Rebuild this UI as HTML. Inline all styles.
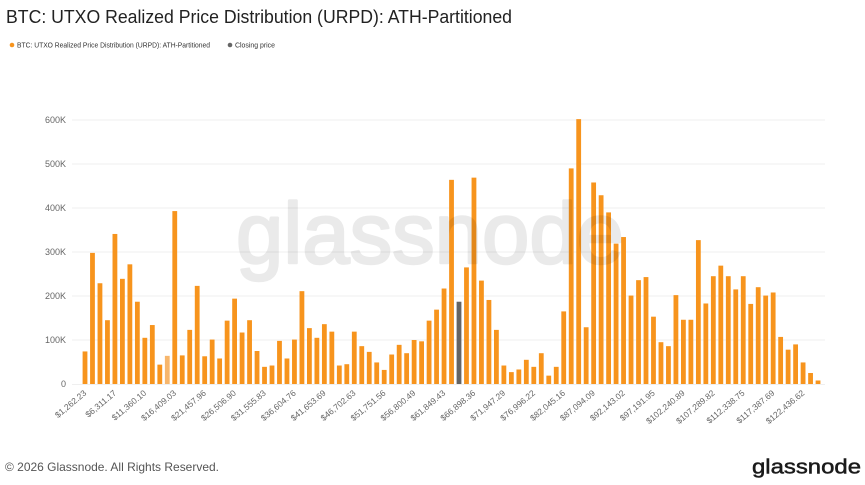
<!DOCTYPE html>
<html>
<head>
<meta charset="utf-8">
<style>
html,body{margin:0;padding:0;background:#fff;}
svg{display:block;font-family:"Liberation Sans",sans-serif;}
</style>
</head>
<body>
<svg width="865" height="485" viewBox="0 0 865 485" xmlns="http://www.w3.org/2000/svg">
<rect x="0" y="0" width="865" height="485" fill="#fff"/>
<text x="6" y="23" font-size="18" fill="#222" textLength="506" lengthAdjust="spacingAndGlyphs">BTC: UTXO Realized Price Distribution (URPD): ATH-Partitioned</text>
<circle cx="12" cy="45" r="2.3" fill="#f7941d"/>
<text x="17" y="47.5" font-size="7" fill="#333" textLength="193" lengthAdjust="spacingAndGlyphs">BTC: UTXO Realized Price Distribution (URPD): ATH-Partitioned</text>
<circle cx="230" cy="45" r="2.3" fill="#666"/>
<text x="235" y="47.5" font-size="7" fill="#333" textLength="40" lengthAdjust="spacingAndGlyphs">Closing price</text>

<g stroke="#efefef" stroke-width="1">
<line x1="72" y1="120" x2="825" y2="120"/>
<line x1="72" y1="164" x2="825" y2="164"/>
<line x1="72" y1="208" x2="825" y2="208"/>
<line x1="72" y1="252" x2="825" y2="252"/>
<line x1="72" y1="296" x2="825" y2="296"/>
<line x1="72" y1="340" x2="825" y2="340"/>
<line x1="72" y1="384.5" x2="825" y2="384.5"/>
</g>
<g font-size="9" fill="#666" text-anchor="end">
<text x="66" y="123">600K</text>
<text x="66" y="167">500K</text>
<text x="66" y="211">400K</text>
<text x="66" y="255">300K</text>
<text x="66" y="299">200K</text>
<text x="66" y="343">100K</text>
<text x="66" y="387">0</text>
</g>

<g fill="#f7941d">
<rect x="82.60" y="351.44" width="4.8" height="32.56"/>
<rect x="90.08" y="252.88" width="4.8" height="131.12"/>
<rect x="97.56" y="283.24" width="4.8" height="100.76"/>
<rect x="105.04" y="320.2" width="4.8" height="63.8"/>
<rect x="112.52" y="233.96" width="4.8" height="150.04"/>
<rect x="120.00" y="278.84" width="4.8" height="105.16"/>
<rect x="127.48" y="264.32" width="4.8" height="119.68"/>
<rect x="134.96" y="301.72" width="4.8" height="82.28"/>
<rect x="142.44" y="337.8" width="4.8" height="46.2"/>
<rect x="149.92" y="325.04" width="4.8" height="58.96"/>
<rect x="157.40" y="364.64" width="4.8" height="19.36"/>
<rect x="164.88" y="355.84" width="4.8" height="28.16" fill="#f7b66c"/>
<rect x="172.36" y="211.08" width="4.8" height="172.92"/>
<rect x="179.84" y="355.4" width="4.8" height="28.6"/>
<rect x="187.32" y="329.88" width="4.8" height="54.12"/>
<rect x="194.80" y="285.88" width="4.8" height="98.12"/>
<rect x="202.28" y="356.28" width="4.8" height="27.72"/>
<rect x="209.76" y="339.56" width="4.8" height="44.44"/>
<rect x="217.24" y="358.48" width="4.8" height="25.52"/>
<rect x="224.72" y="320.64" width="4.8" height="63.36"/>
<rect x="232.20" y="298.64" width="4.8" height="85.36"/>
<rect x="239.68" y="332.52" width="4.8" height="51.48"/>
<rect x="247.16" y="320.2" width="4.8" height="63.8"/>
<rect x="254.64" y="351" width="4.8" height="33"/>
<rect x="262.12" y="366.84" width="4.8" height="17.16"/>
<rect x="269.60" y="365.52" width="4.8" height="18.48"/>
<rect x="277.08" y="340.88" width="4.8" height="43.12"/>
<rect x="284.56" y="358.48" width="4.8" height="25.52"/>
<rect x="292.04" y="339.56" width="4.8" height="44.44"/>
<rect x="299.52" y="291.16" width="4.8" height="92.84"/>
<rect x="307.00" y="328.12" width="4.8" height="55.88"/>
<rect x="314.48" y="337.8" width="4.8" height="46.2"/>
<rect x="321.96" y="324.16" width="4.8" height="59.84"/>
<rect x="329.44" y="331.64" width="4.8" height="52.36"/>
<rect x="336.92" y="365.52" width="4.8" height="18.48"/>
<rect x="344.40" y="364.2" width="4.8" height="19.8"/>
<rect x="351.88" y="331.64" width="4.8" height="52.36"/>
<rect x="359.36" y="346.16" width="4.8" height="37.84"/>
<rect x="366.84" y="351.88" width="4.8" height="32.12"/>
<rect x="374.32" y="362.44" width="4.8" height="21.56"/>
<rect x="381.80" y="369.92" width="4.8" height="14.08"/>
<rect x="389.28" y="354.52" width="4.8" height="29.48"/>
<rect x="396.76" y="344.84" width="4.8" height="39.16"/>
<rect x="404.24" y="353.2" width="4.8" height="30.8"/>
<rect x="411.72" y="340" width="4.8" height="44"/>
<rect x="419.20" y="341.32" width="4.8" height="42.68"/>
<rect x="426.68" y="320.64" width="4.8" height="63.36"/>
<rect x="434.16" y="309.64" width="4.8" height="74.36"/>
<rect x="441.64" y="288.52" width="4.8" height="95.48"/>
<rect x="449.12" y="179.84" width="4.8" height="204.16"/>
<rect x="456.60" y="301.72" width="4.8" height="82.28" fill="#646464"/>
<rect x="464.08" y="267.4" width="4.8" height="116.6"/>
<rect x="471.56" y="177.64" width="4.8" height="206.36"/>
<rect x="479.04" y="280.6" width="4.8" height="103.4"/>
<rect x="486.52" y="299.96" width="4.8" height="84.04"/>
<rect x="494.00" y="329.88" width="4.8" height="54.12"/>
<rect x="501.48" y="365.52" width="4.8" height="18.48"/>
<rect x="508.96" y="372.12" width="4.8" height="11.88"/>
<rect x="516.44" y="369.48" width="4.8" height="14.52"/>
<rect x="523.92" y="359.8" width="4.8" height="24.2"/>
<rect x="531.40" y="366.84" width="4.8" height="17.16"/>
<rect x="538.88" y="353.2" width="4.8" height="30.8"/>
<rect x="546.36" y="375.64" width="4.8" height="8.36"/>
<rect x="553.84" y="366.84" width="4.8" height="17.16"/>
<rect x="561.32" y="311.4" width="4.8" height="72.6"/>
<rect x="568.80" y="168.4" width="4.8" height="215.6"/>
<rect x="576.28" y="119.12" width="4.8" height="264.88"/>
<rect x="583.76" y="327.24" width="4.8" height="56.76"/>
<rect x="591.24" y="182.48" width="4.8" height="201.52"/>
<rect x="598.72" y="195.24" width="4.8" height="188.76"/>
<rect x="606.20" y="212.4" width="4.8" height="171.6"/>
<rect x="613.68" y="243.64" width="4.8" height="140.36"/>
<rect x="621.16" y="237.04" width="4.8" height="146.96"/>
<rect x="628.64" y="295.56" width="4.8" height="88.44"/>
<rect x="636.12" y="280.16" width="4.8" height="103.84"/>
<rect x="643.60" y="277.08" width="4.8" height="106.92"/>
<rect x="651.08" y="316.68" width="4.8" height="67.32"/>
<rect x="658.56" y="342.2" width="4.8" height="41.8"/>
<rect x="666.04" y="346.16" width="4.8" height="37.84"/>
<rect x="673.52" y="295.12" width="4.8" height="88.88"/>
<rect x="681.00" y="319.76" width="4.8" height="64.24"/>
<rect x="688.48" y="319.76" width="4.8" height="64.24"/>
<rect x="695.96" y="240.12" width="4.8" height="143.88"/>
<rect x="703.44" y="303.48" width="4.8" height="80.52"/>
<rect x="710.92" y="276.2" width="4.8" height="107.8"/>
<rect x="718.40" y="265.64" width="4.8" height="118.36"/>
<rect x="725.88" y="276.2" width="4.8" height="107.8"/>
<rect x="733.36" y="289.4" width="4.8" height="94.6"/>
<rect x="740.84" y="276.2" width="4.8" height="107.8"/>
<rect x="748.32" y="303.92" width="4.8" height="80.08"/>
<rect x="755.80" y="287.2" width="4.8" height="96.8"/>
<rect x="763.28" y="295.56" width="4.8" height="88.44"/>
<rect x="770.76" y="292.48" width="4.8" height="91.52"/>
<rect x="778.24" y="336.92" width="4.8" height="47.08"/>
<rect x="785.72" y="349.68" width="4.8" height="34.32"/>
<rect x="793.20" y="344.4" width="4.8" height="39.6"/>
<rect x="800.68" y="362.44" width="4.8" height="21.56"/>
<rect x="808.16" y="373" width="4.8" height="11"/>
<rect x="815.64" y="380.48" width="4.8" height="3.52"/>
</g>

<g opacity="0.08">
<text x="236" y="263" font-size="86" fill="#000" stroke="#000" stroke-width="2.5" stroke-linejoin="round" textLength="388" lengthAdjust="spacingAndGlyphs">glassnode</text>
</g>

<g font-size="8.5" fill="#666" text-anchor="end">
<text transform="translate(87,394) rotate(-40)">$1,262.23</text>
<text transform="translate(116.92,394) rotate(-40)">$6,311.17</text>
<text transform="translate(146.84,394) rotate(-40)">$11,360.10</text>
<text transform="translate(176.76,394) rotate(-40)">$16,409.03</text>
<text transform="translate(206.68,394) rotate(-40)">$21,457.96</text>
<text transform="translate(236.6,394) rotate(-40)">$26,506.90</text>
<text transform="translate(266.52,394) rotate(-40)">$31,555.83</text>
<text transform="translate(296.44,394) rotate(-40)">$36,604.76</text>
<text transform="translate(326.36,394) rotate(-40)">$41,653.69</text>
<text transform="translate(356.28,394) rotate(-40)">$46,702.63</text>
<text transform="translate(386.2,394) rotate(-40)">$51,751.56</text>
<text transform="translate(416.12,394) rotate(-40)">$56,800.49</text>
<text transform="translate(446.04,394) rotate(-40)">$61,849.43</text>
<text transform="translate(475.96,394) rotate(-40)">$66,898.36</text>
<text transform="translate(505.88,394) rotate(-40)">$71,947.29</text>
<text transform="translate(535.8,394) rotate(-40)">$76,996.22</text>
<text transform="translate(565.72,394) rotate(-40)">$82,045.16</text>
<text transform="translate(595.64,394) rotate(-40)">$87,094.09</text>
<text transform="translate(625.56,394) rotate(-40)">$92,143.02</text>
<text transform="translate(655.48,394) rotate(-40)">$97,191.95</text>
<text transform="translate(685.4,394) rotate(-40)">$102,240.89</text>
<text transform="translate(715.32,394) rotate(-40)">$107,289.82</text>
<text transform="translate(745.24,394) rotate(-40)">$112,338.75</text>
<text transform="translate(775.16,394) rotate(-40)">$117,387.69</text>
<text transform="translate(805.08,394) rotate(-40)">$122,436.62</text>
</g>

<text x="5" y="471" font-size="12" fill="#555" textLength="214" lengthAdjust="spacingAndGlyphs">© 2026 Glassnode. All Rights Reserved.</text>
<text x="752" y="473.5" font-size="20" fill="#1a1a1a" stroke="#1a1a1a" stroke-width="0.5" textLength="109" lengthAdjust="spacingAndGlyphs">glassnode</text>
</svg>
</body>
</html>
